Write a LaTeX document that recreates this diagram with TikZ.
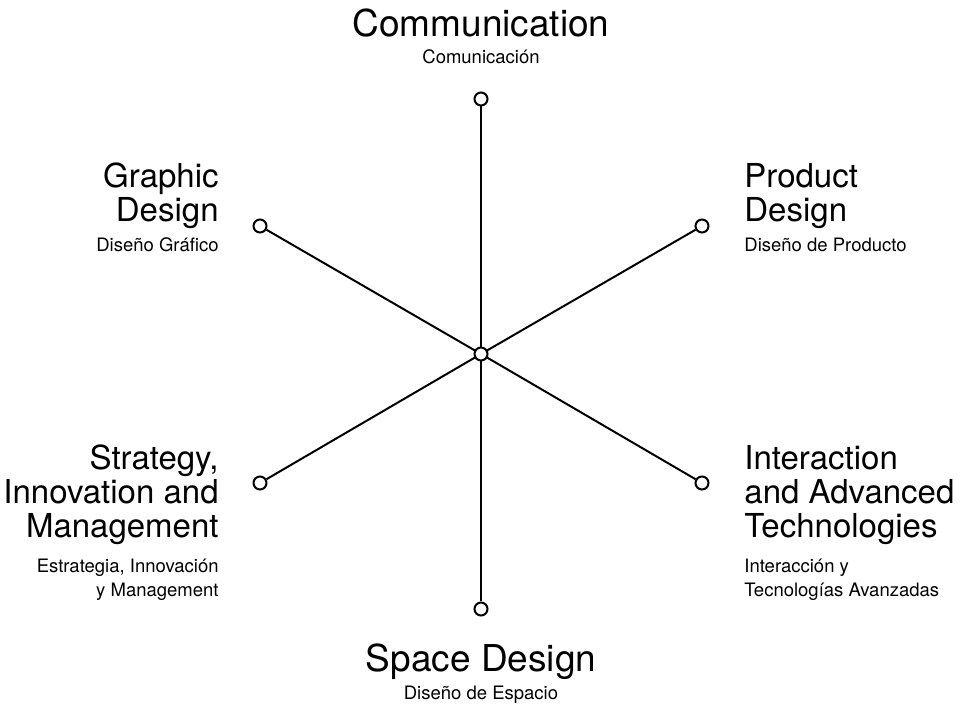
\documentclass[tikz,border=0pt]{standalone}
\usepackage{fontspec}
\setmainfont{TeX Gyre Heros}
\usepackage{tikz}
\usetikzlibrary{positioning}

\begin{document}
\begin{tikzpicture}[x=1pt, y=1pt, thick,
  dot/.style={draw, circle, fill=white, line width=2pt, inner sep=0pt, minimum size=13pt},
  spoke/.style={line width=2pt},
  maintitle/.style={font=\fontsize{37}{37}\selectfont, inner sep=0pt},
  title/.style={font=\fontsize{33}{34}\selectfont, inner sep=0pt},
  subtitle/.style={font=\fontsize{18.5}{24}\selectfont, inner sep=0pt}]
  \useasboundingbox (0,0) rectangle (977,706);

  \coordinate (hub) at (481,352);
  \node[dot] (comm) at (481,607) {};
  \node[dot] (product) at (702,480) {};
  \node[dot] (interaction) at (702,223) {};
  \node[dot] (space) at (481,97) {};
  \node[dot] (strategy) at (260,223) {};
  \node[dot] (graphic) at (260,480) {};

  \draw[spoke] (hub) -- (comm);
  \draw[spoke] (hub) -- (product);
  \draw[spoke] (hub) -- (interaction);
  \draw[spoke] (hub) -- (space);
  \draw[spoke] (hub) -- (strategy);
  \draw[spoke] (hub) -- (graphic);
  \node[dot] (center) at (hub) {};

  \node[maintitle, anchor=base] (commtext) at (481,669) {Communication};
  \node[subtitle, anchor=base] (commsub) at (481,642) {Comunicación};

  \node[title, anchor=base east, align=right] (graphictext) at (219,484) {Graphic\\Design};
  \node[subtitle, anchor=base east] (graphicsub) at (219,454) {Diseño Gráfico};

  \node[title, anchor=base west, align=left] (producttext) at (744,484) {Product\\Design};
  \node[subtitle, anchor=base west] (productsub) at (744,454) {Diseño de Producto};

  \node[title, anchor=base east, align=right] (strategytext) at (219,168) {Strategy,\\Innovation and\\Management};
  \node[subtitle, anchor=base east, align=right] (strategysub) at (219,109) {Estrategia, Innovación\\y Management};

  \node[title, anchor=base west, align=left] (interactiontext) at (744,168) {Interaction\\and Advanced\\Technologies};
  \node[subtitle, anchor=base west, align=left] (interactionsub) at (744,109) {Interacción y\\Tecnologías Avanzadas};

  \node[maintitle, anchor=base] (spacetext) at (481,34) {Space Design};
  \node[subtitle, anchor=base] (spacesub) at (481,6) {Diseño de Espacio};
\end{tikzpicture}
\end{document}
